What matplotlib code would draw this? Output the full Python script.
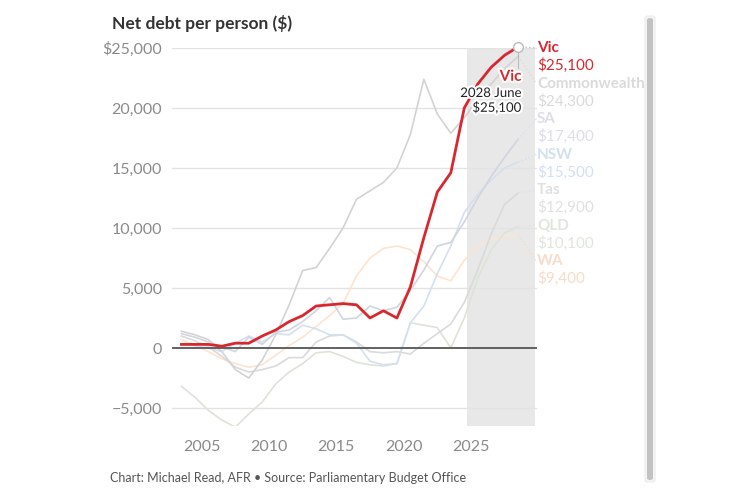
import matplotlib.pyplot as plt
import matplotlib.transforms as mtransforms
import matplotlib.patheffects as pe
from matplotlib.patches import FancyBboxPatch
import numpy as np

plt.rcParams['font.family'] = ['Lato', 'DejaVu Sans']

# financial years ending June
years = np.arange(2003, 2029)

vic = [300, 300, 300, 150, 400, 400, 1000, 1500, 2200, 2700, 3500, 3600, 3700,
       3600, 2500, 3100, 2500, 5100, 9200, 13000, 14600, 20000, 22000, 23400, 24400, 25100]
commonwealth = [1400, 1100, 700, -300, -1800, -2500, -1000, 1100, 3600, 6450, 6700, 8300, 10000,
                12400, 13100, 13800, 15000, 17800, 22400, 19500, 17900, 19200, 20700, 22000, 23300, 24300]
sa = [1200, 900, 500, 100, -300, 900, 300, 1300, 1500, 2200, 3100, 4200, 2400,
      2500, 3500, 3100, 3400, 4800, 6500, 8500, 8800, 10500, 12500, 14300, 15900, 17400]
nsw = [300, 200, 0, -300, 400, 1000, 500, 1200, 1100, 1900, 1600, 1100, 1100,
       400, -1100, -1400, -1300, 2100, 3500, 6200, 8500, 11300, 12800, 14000, 15000, 15500]
tas = [1000, 600, 100, -700, -1600, -2000, -1800, -1500, -800, -800, 500, 1000, 1100,
       500, -300, -400, -300, -500, 400, 1200, 2000, 3800, 6500, 9500, 12000, 12900]
qld = [-3200, -4100, -5200, -6000, -6600, -5500, -4500, -3000, -2000, -1300, -400, -300, -700,
       -1200, -1400, -1500, -1300, 2100, 1900, 1700, 0, 2500, 5800, 8200, 9600, 10100]
wa = [700, 200, -300, -900, -1300, -1600, -1400, -600, 200, 900, 1800, 2700, 3700,
      6000, 7500, 8300, 8500, 8200, 7200, 6000, 5600, 7300, 8500, 9000, 9300, 9400]

names = ['Vic', 'Commonwealth', 'SA', 'NSW', 'Tas', 'QLD', 'WA']
series = [vic, commonwealth, sa, nsw, tas, qld, wa]
line_colors = ['#d7282f', '#d3d3d3', '#d0d5de', '#d4e0ef', '#dadada', '#dce4d8', '#fde4cf']
label_colors = ['#d7282f', '#dadada', '#dcdfe6', '#d3e0f2', '#e0e0e0', '#dfe6dc', '#f7dcc8']

yticks = [-5000, 0, 5000, 10000, 15000, 20000, 25000]
ytick_labels = ['\u22125,000', '0', '5,000', '10,000', '15,000', '20,000', '$25,000']
xticks = [2005, 2010, 2015, 2020, 2025]

fig = plt.figure(figsize=(7.53, 5.0), dpi=100)
ax = fig.add_axes([172 / 753, 1 - 426 / 500, 365 / 753, 378 / 500])

x = years + 0.5
ax.axvspan(2024.7, 2029.75, color='#e8e8e8', lw=0, zorder=0)
for yt in yticks:
    if yt != 0:
        ax.axhline(yt, color='#e3e3e3', lw=1, zorder=1)
ax.axhline(0, color='#555555', lw=1.3, zorder=3)

# faint lines first, Vic on top
for vals, c in list(zip(series, line_colors))[:0:-1]:
    ax.plot(x, vals, color=c, lw=1.2, zorder=2)
ax.plot(x, vic, color=line_colors[0], lw=2.0, zorder=5, clip_on=False)

ax.set_xlim(2002.8, 2029.9)
ax.set_ylim(-6500, 25000)
ax.set_yticks(yticks)
ax.set_yticklabels(ytick_labels)
ax.set_xticks(xticks)
ax.tick_params(length=0, labelsize=11.5, colors='#8a8a8a', pad=7)
ax.tick_params(axis='x', pad=10)
for s in ax.spines.values():
    s.set_visible(False)

# end labels stacked down the right side
lab_tr = mtransforms.blended_transform_factory(ax.transAxes, ax.transData)
step = 2960
for i, (n, vals, c) in enumerate(zip(names, series, label_colors)):
    ny = 25000 - i * step
    ax.text(1.0, ny, n, transform=lab_tr, color=c, fontsize=11, fontweight='bold',
            va='center', ha='left')
    ax.text(1.0, ny - 1450, '$' + format(vals[-1], ','), transform=lab_tr, color=c,
            fontsize=11, va='center', ha='left')
    ax.plot([x[-1], 2029.85], [vals[-1], ny], ls=':', lw=1, color=c if i else '#bbbbbb',
            zorder=4, clip_on=False)

# tooltip on last Vic point
halo = [pe.withStroke(linewidth=3, foreground='white')]
tx = x[-1] + 0.25
ax.plot([x[-1]], [vic[-1]], 'o', ms=7, mfc='white', mec='#bbbbbb', mew=1, zorder=6, clip_on=False)
ax.plot([x[-1], x[-1]], [vic[-1], 23300], color='#bbbbbb', lw=0.8, zorder=4)
ax.text(tx, 22600, 'Vic', color='#d7282f', fontsize=11, fontweight='bold',
        ha='right', va='center', zorder=7, path_effects=halo)
ax.text(tx, 21250, '2028 June', color='#222222',
        fontsize=9.5, ha='right', va='center', zorder=7, path_effects=halo)
ax.text(tx, 20050, '$' + format(vic[-1], ','), color='#222222',
        fontsize=9.5, ha='right', va='center', zorder=7, path_effects=halo)

fig.text(112 / 753, 1 - 23 / 500, 'Net debt per person ($)', fontsize=12.5, fontweight='bold',
         color='#333333', va='center', ha='left')
fig.text(110 / 753, 1 - 478 / 500, 'Chart: Michael Read, AFR \u2022 Source: Parliamentary Budget Office',
         fontsize=9, color='#555555', va='center', ha='left')

# scrollbar strip on the right edge
fig.patches.append(FancyBboxPatch((645 / 753, 18 / 500), 10 / 753, 466 / 500,
                                  boxstyle='round,pad=0,rounding_size=0.004',
                                  transform=fig.transFigure, fc='#f4f4f4', ec='#ececec', lw=0.8))
fig.patches.append(FancyBboxPatch((647 / 753, 20 / 500), 6 / 753, 462 / 500,
                                  boxstyle='round,pad=0,rounding_size=0.004',
                                  transform=fig.transFigure, fc='#c2c2c2', ec='none'))

fig.savefig('out.png', dpi=100)
